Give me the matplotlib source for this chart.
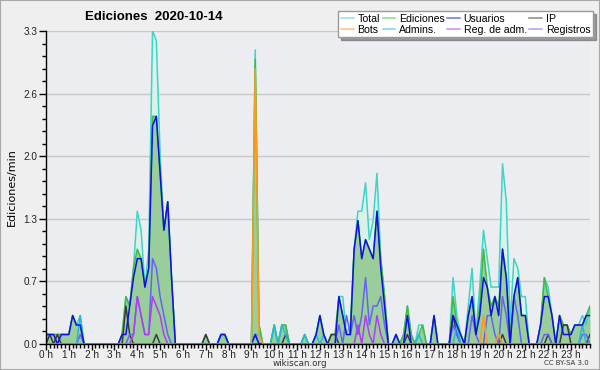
import matplotlib
matplotlib.use('Agg')
import matplotlib.pyplot as plt
import matplotlib.ticker as mticker
from matplotlib.patches import Rectangle
import numpy as np

# edits per minute, one value per 10-minute bin (6 per hour, 12 per row = 2 hours)
total = [
    0.1, 0.1, 0.1, 0.1, 0.1, 0.1,  0.1, 0.3, 0.2, 0.3, 0.0, 0.0,
    0.0, 0.0, 0.0, 0.0, 0.0, 0.0,  0.0, 0.0, 0.1, 0.5, 0.4, 0.8,
    1.4, 1.2, 0.6, 1.0, 3.3, 3.2,  2.0, 1.2, 1.5, 0.7, 0.0, 0.0,
    0.0, 0.0, 0.0, 0.0, 0.0, 0.0,  0.1, 0.0, 0.0, 0.0, 0.1, 0.1,
    0.0, 0.0, 0.0, 0.0, 0.0, 0.0,  0.0, 3.1, 0.2, 0.0, 0.0, 0.0,
    0.2, 0.0, 0.2, 0.2, 0.0, 0.0,  0.0, 0.0, 0.1, 0.0, 0.0, 0.1,
    0.3, 0.1, 0.0, 0.1, 0.1, 0.5,  0.5, 0.1, 0.2, 1.0, 1.4, 1.4,
    1.7, 1.1, 1.3, 1.8, 0.9, 0.5,  0.0, 0.0, 0.1, 0.0, 0.1, 0.4,
    0.1, 0.0, 0.2, 0.2, 0.0, 0.0,  0.3, 0.0, 0.0, 0.0, 0.0, 0.7,
    0.3, 0.1, 0.0, 0.4, 0.8, 0.1,  0.6, 1.2, 0.9, 0.6, 0.6, 0.6,
    1.9, 1.5, 0.2, 0.9, 0.8, 0.5,  0.5, 0.0, 0.0, 0.0, 0.2, 0.7,
    0.6, 0.3, 0.0, 0.3, 0.2, 0.2,  0.1, 0.2, 0.2, 0.3, 0.2, 0.4,
]
ediciones = [
    0.1, 0.1, 0.1, 0.1, 0.1, 0.1,  0.1, 0.3, 0.2, 0.2, 0.0, 0.0,
    0.0, 0.0, 0.0, 0.0, 0.0, 0.0,  0.0, 0.0, 0.1, 0.5, 0.4, 0.8,
    1.0, 0.9, 0.6, 0.8, 2.4, 2.4,  1.8, 1.2, 1.5, 0.7, 0.0, 0.0,
    0.0, 0.0, 0.0, 0.0, 0.0, 0.0,  0.1, 0.0, 0.0, 0.0, 0.1, 0.1,
    0.0, 0.0, 0.0, 0.0, 0.0, 0.0,  0.0, 3.0, 0.2, 0.0, 0.0, 0.0,
    0.2, 0.0, 0.2, 0.2, 0.0, 0.0,  0.0, 0.0, 0.1, 0.0, 0.0, 0.1,
    0.3, 0.1, 0.0, 0.1, 0.1, 0.5,  0.3, 0.1, 0.1, 1.0, 1.3, 0.9,
    1.1, 1.0, 0.9, 1.4, 0.9, 0.5,  0.0, 0.0, 0.1, 0.0, 0.1, 0.4,
    0.1, 0.0, 0.1, 0.2, 0.0, 0.0,  0.3, 0.0, 0.0, 0.0, 0.0, 0.5,
    0.2, 0.1, 0.0, 0.3, 0.5, 0.1,  0.4, 1.0, 0.6, 0.4, 0.5, 0.4,
    1.0, 0.7, 0.1, 0.5, 0.7, 0.3,  0.3, 0.0, 0.0, 0.0, 0.2, 0.7,
    0.5, 0.3, 0.0, 0.3, 0.2, 0.2,  0.1, 0.2, 0.2, 0.2, 0.3, 0.4,
]
usuarios = [
    0.1, 0.1, 0.1, 0.0, 0.1, 0.1,  0.1, 0.3, 0.2, 0.2, 0.0, 0.0,
    0.0, 0.0, 0.0, 0.0, 0.0, 0.0,  0.0, 0.0, 0.1, 0.1, 0.4, 0.7,
    0.9, 0.9, 0.6, 0.8, 2.3, 2.4,  1.8, 1.2, 1.5, 0.7, 0.0, 0.0,
    0.0, 0.0, 0.0, 0.0, 0.0, 0.0,  0.0, 0.0, 0.0, 0.0, 0.1, 0.1,
    0.0, 0.0, 0.0, 0.0, 0.0, 0.0,  0.0, 0.1, 0.0, 0.0, 0.0, 0.0,
    0.0, 0.0, 0.0, 0.0, 0.0, 0.0,  0.0, 0.0, 0.0, 0.0, 0.0, 0.1,
    0.3, 0.1, 0.0, 0.0, 0.0, 0.5,  0.3, 0.1, 0.1, 1.0, 1.3, 0.9,
    1.1, 1.0, 0.9, 1.4, 0.8, 0.4,  0.0, 0.0, 0.1, 0.0, 0.0, 0.3,
    0.0, 0.0, 0.0, 0.0, 0.0, 0.0,  0.3, 0.0, 0.0, 0.0, 0.0, 0.3,
    0.2, 0.1, 0.0, 0.3, 0.5, 0.1,  0.3, 0.7, 0.6, 0.3, 0.5, 0.3,
    1.0, 0.7, 0.0, 0.5, 0.7, 0.3,  0.3, 0.0, 0.0, 0.0, 0.2, 0.5,
    0.5, 0.3, 0.0, 0.3, 0.1, 0.1,  0.1, 0.2, 0.2, 0.2, 0.3, 0.3,
]
ip = [
    0.0, 0.1, 0.0, 0.1, 0.0, 0.0,  0.0, 0.0, 0.0, 0.0, 0.0, 0.0,
    0.0, 0.0, 0.0, 0.0, 0.0, 0.0,  0.0, 0.0, 0.0, 0.4, 0.1, 0.0,
    0.0, 0.0, 0.0, 0.0, 0.0, 0.1,  0.0, 0.0, 0.0, 0.0, 0.0, 0.0,
    0.0, 0.0, 0.0, 0.0, 0.0, 0.0,  0.1, 0.0, 0.0, 0.0, 0.0, 0.0,
    0.0, 0.0, 0.0, 0.0, 0.0, 0.0,  0.0, 0.0, 0.0, 0.0, 0.0, 0.0,
    0.0, 0.0, 0.0, 0.1, 0.0, 0.0,  0.0, 0.0, 0.0, 0.0, 0.0, 0.0,
    0.0, 0.0, 0.0, 0.1, 0.1, 0.0,  0.0, 0.0, 0.0, 0.0, 0.0, 0.0,
    0.0, 0.0, 0.0, 0.0, 0.0, 0.0,  0.0, 0.0, 0.0, 0.0, 0.0, 0.1,
    0.0, 0.0, 0.0, 0.0, 0.0, 0.0,  0.0, 0.0, 0.0, 0.0, 0.0, 0.3,
    0.1, 0.0, 0.0, 0.0, 0.0, 0.0,  0.0, 0.0, 0.0, 0.0, 0.0, 0.0,
    0.1, 0.0, 0.0, 0.0, 0.0, 0.0,  0.0, 0.0, 0.0, 0.0, 0.0, 0.0,
    0.1, 0.0, 0.0, 0.0, 0.2, 0.2,  0.0, 0.0, 0.0, 0.0, 0.0, 0.1,
]
# sparse series: {10-minute bin: edits/min}
bots_at = {55: 2.9, 56: 0.1, 115: 0.3, 119: 0.1}
admins_at = {9: 0.3, 46: 0.1, 47: 0.1, 55: 0.1, 56: 0.1, 60: 0.2, 62: 0.2,
             63: 0.1, 68: 0.1, 71: 0.1, 73: 0.1, 98: 0.1, 108: 0.2, 141: 0.2}
regadm_at = {23: 0.1, 24: 0.5, 25: 0.3, 26: 0.1, 27: 0.1, 28: 0.5, 29: 0.4,
             30: 0.3, 31: 0.1, 82: 0.2, 84: 0.3, 85: 0.1, 87: 0.3, 88: 0.1}
registros_at = {9: 0.1, 22: 0.1, 23: 0.1, 24: 0.5, 25: 0.3, 26: 0.1, 27: 0.1,
                28: 0.9, 29: 0.8, 30: 0.5, 31: 0.3, 32: 0.1, 55: 0.1,
                77: 0.2, 79: 0.3, 80: 0.1, 81: 0.3, 82: 0.1, 83: 0.3, 84: 0.7,
                85: 0.2, 86: 0.4, 87: 0.4, 88: 0.5, 89: 0.2, 107: 0.2, 108: 0.1,
                112: 0.3, 113: 0.1, 116: 0.3, 117: 0.3, 118: 0.1, 120: 0.5,
                121: 0.3, 123: 0.5, 124: 0.3, 131: 0.1, 132: 0.1, 141: 0.1, 142: 0.1}

def spread(d):
    a = [0.0] * 144
    for k, v in d.items():
        a[k] = v
    return a

bots = spread(bots_at)
admins = spread(admins_at)
regadm = spread(regadm_at)
registros = spread(registros_at)

hours = np.arange(144) / 6.0
narrow = 'Liberation Sans'

fig = plt.figure(figsize=(6, 3.7), dpi=100, facecolor='#efefef')
fig.patches.append(Rectangle((0, 0), 1, 1, transform=fig.transFigure,
                             fill=False, edgecolor='#a8a8a8', lw=1.5))
ax = fig.add_axes([46/600, 26/370, 544/600, 313/370])
ax.set_facecolor('#ecedf0')

ax.fill_between(hours, total, color='#d9f2ec', lw=0)
ax.fill_between(hours, ediciones, color='#96cc96', lw=0, alpha=0.95)

lw = 1.1
l_total, = ax.plot(hours, total, color='#3dd5c5', lw=lw, label='Total')
l_edic, = ax.plot(hours, ediciones, color='#44b844', lw=lw, label='Ediciones')
l_ip, = ax.plot(hours, ip, color='#3a3a3a', lw=lw, label='IP')
l_reg, = ax.plot(hours, registros, color='#6464f0', lw=lw, label='Registros')
l_radm, = ax.plot(hours, regadm, color='#b43cf0', lw=lw, label='Reg. de adm.')
l_adm, = ax.plot(hours, admins, color='#22b8e0', lw=lw, label='Admins.')
l_usu, = ax.plot(hours, usuarios, color='#1010e0', lw=lw, label='Usuarios')
l_bots, = ax.plot(hours, bots, color='#ff9a1a', lw=lw, label='Bots')

ax.set_xlim(0, 143 / 6.0)
ax.set_ylim(0, 3.3)

ax.set_yticks(np.linspace(0, 3.3, 6))
ax.yaxis.set_major_formatter(mticker.FormatStrFormatter('%.1f'))
ax.yaxis.set_minor_locator(mticker.MultipleLocator(0.132))
ax.set_xticks(np.arange(24))
ax.set_xticklabels(['%d h' % h for h in range(24)])
ax.xaxis.set_minor_locator(mticker.MultipleLocator(1 / 6.0))

ax.tick_params(axis='both', which='major', labelsize=7.2, length=4, width=1,
               color='black', labelcolor='#222222', pad=0.3)
ax.tick_params(axis='y', which='major', length=5, pad=1)
ax.tick_params(axis='both', which='minor', length=3, width=1)
for lab in ax.get_xticklabels() + ax.get_yticklabels():
    lab.set_family(narrow)

ax.yaxis.grid(True, color='#c8c8c8', lw=1)
ax.set_axisbelow(True)
for s in ['top', 'right']:
    ax.spines[s].set_visible(False)
for s in ['left', 'bottom']:
    ax.spines[s].set_color('black')
    ax.spines[s].set_linewidth(1)

ax.set_ylabel('Ediciones/min', fontsize=8, labelpad=5)

fig.text(85/600, 1 - 17/370, 'Ediciones  2020-10-14', fontsize=9.5,
         fontweight='bold', va='center', ha='left', family=narrow)
fig.text(300/600, 1 - 364/370, 'wikiscan.org', fontsize=6.3, ha='center',
         va='center', color='#333333')
fig.text(589/600, 1 - 363/370, 'CC BY-SA 3.0', fontsize=5, ha='right',
         va='center', color='#333333')

handles = [l_total, l_bots, l_edic, l_adm, l_usu, l_radm, l_ip, l_reg]
leg = fig.legend(handles=handles, ncol=4, loc='upper right',
                 bbox_to_anchor=(593/600, 1 - 11/370),
                 prop={'family': narrow, 'size': 7.6},
                 frameon=True, fancybox=False, shadow=True, borderpad=0.25,
                 labelspacing=0.1, handlelength=1.2, handletextpad=0.35,
                 columnspacing=0.25, borderaxespad=0)
leg.get_frame().set_edgecolor('#999999')
leg.get_frame().set_linewidth(1)
for line in leg.get_lines():
    line.set_alpha(0.6)

fig.savefig('out.png', dpi=100, facecolor=fig.get_facecolor())
